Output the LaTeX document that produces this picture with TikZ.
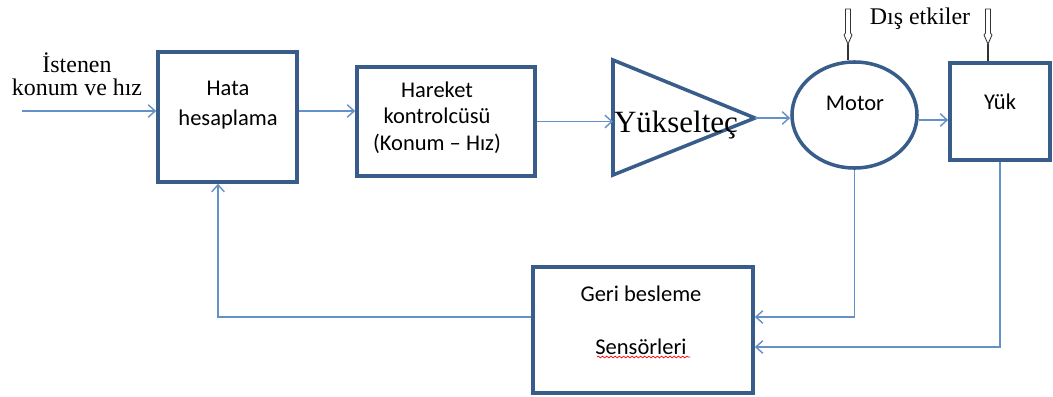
\documentclass[tikz,border=0pt]{standalone}
\usepackage{fontspec}
\setmainfont{Carlito}
\newfontfamily\tnr{Liberation Serif}
\usepackage{tikz}
\usetikzlibrary{arrows.meta,shapes.geometric,decorations.pathmorphing}
\definecolor{kutumavi}{RGB}{56,93,138}
\definecolor{okmavi}{RGB}{100,145,200}

\begin{document}
\begin{tikzpicture}[x=0.025cm,y=-0.025cm,
        kutu/.style={draw=kutumavi, line width=2.5pt, inner sep=0pt},
        yazi/.style={font=\fontsize{16}{21}\selectfont, align=center, inner sep=0pt},
        serif/.style={font=\tnr\fontsize{17}{16}\selectfont, align=center, inner sep=0pt},
        ok/.style={draw=okmavi, line width=1pt, -{Straight Barb[length=5pt,width=9pt]}},
        etki/.style={draw=black!80, line width=0.6pt}]
        \useasboundingbox (0,0) rectangle (1053,396);
        % bloklar
        \node[kutu, minimum width=3.475cm, minimum height=3.25cm] (hata) at (227.5,117) {};
        \node[kutu, minimum width=4.45cm, minimum height=2.725cm] (hareket) at (446,121.5) {};
        \node[kutu, ellipse, minimum width=3.125cm, minimum height=2.65cm] (motor) at (854.5,115) {};
        \node[kutu, minimum width=2.5cm, minimum height=2.425cm] (yuk) at (1000,111.5) {};
        \node[kutu, minimum width=5.5cm, minimum height=3.15cm] (sensor) at (643,330) {};
        \draw[kutumavi, line width=2.5pt] (613,60) coordinate (ykA) -- (755,118) coordinate (tepe)
            -- (613,175) coordinate (ykB) -- cycle;
        % yazilar
        \node[yazi] (hataT) at (228,105) {Hata\\hesaplama};
        \node[yazi, font=\fontsize{16}{19}\selectfont] (hareketT) at (437,117.5) {Hareket\\kontrolcüsü\\(Konum -- Hız)};
        \node[yazi] (motorT) at (855,103) {Motor};
        \node[yazi] (yukT) at (1000,102) {Yük};
        \node[yazi] (sensorT) at (641,320) {Geri besleme\\[17pt]Sensörleri};
        \node[serif] (istenen) at (77,74) {İstenen\\konum ve hız};
        \node[serif] (etkiT) at (920,19) {Dış etkiler};
        \node[serif, font=\tnr\fontsize{22}{22}\selectfont] (yukseltec) at (676,125) {Yükselteç};
        \draw[red, line width=0.5pt, decorate, decoration={snake, amplitude=0.6pt, segment length=3pt}]
            (597,357) -- (690,357);
        % oklar
        \coordinate (giris) at (22,111);
        \draw[ok] (giris) -- (giris -| hata.west);
        \draw[ok] (hata.east |- giris) -- (hareket.west |- giris);
        \draw[ok] (hareket.east) -- (hareket.east -| ykA);
        \draw[ok] (tepe) -- (tepe -| motor.west);
        \draw[ok] (motor.east |- 0,120) -- (yuk.west |- 0,120);
        % geri besleme
        \draw[ok] (motor.south) |- (sensor.east |- 0,317);
        \draw[ok] (yuk.south) |- (sensor.east |- 0,347);
        \draw[ok] (sensor.west |- 0,317) -| (hata.south -| 218,0);
        % dis etkiler
        \coordinate (e1) at (848,9);
        \coordinate (e2) at (988,9);
        \foreach \k/\hedef in {e1/motor, e2/yuk} {
            \draw[etki, shift={(\k)}] (-2.5,0) -- (-2.5,24) -- (-4,26) -- (0,35) -- (4,26) -- (2.5,24) -- (2.5,0) -- cycle;
            \draw[black!80, line width=1.5pt] (\k) ++(0,35) -- (\k |- \hedef.north);
        }
    \end{tikzpicture}
\end{document}
